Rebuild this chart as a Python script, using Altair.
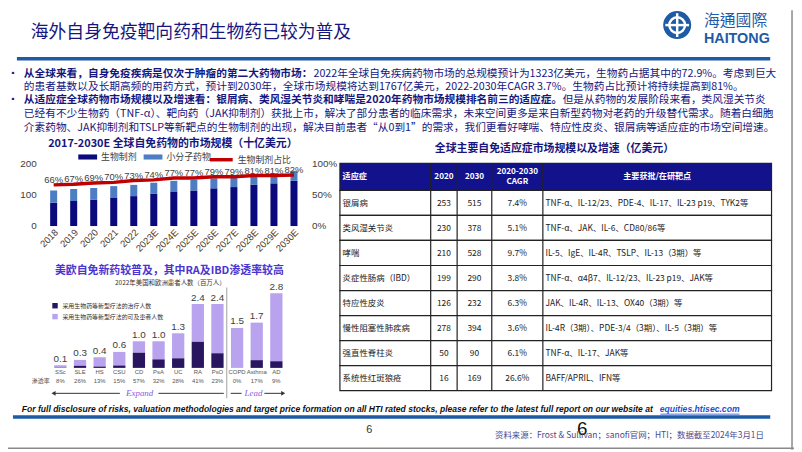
import altair as alt
import pandas as pd

# ---------------- data ----------------
years = ['2018', '2019', '2020', '2021', '2022', '2023E', '2024E', '2025E',
         '2026E', '2027E', '2028E', '2029E', '2030E']
bio = [75, 80, 84, 90, 96, 103, 111, 114, 121, 125, 133, 137, 145]
small = [39, 39, 38, 38, 36, 36, 34, 34, 32, 33, 31, 32, 32]
share = [0.66, 0.67, 0.69, 0.70, 0.73, 0.74, 0.77, 0.77, 0.79, 0.79, 0.81, 0.81, 0.82]
kinds = ['生物制剂', '小分子药物']
line_name = '生物制剂占比'
left_ticks = [0, 100, 200]
right_ticks = [0, 0.5, 1.0]

cats = ['SSc', 'SLE', 'HS', 'CSU', 'CD', 'PsA', 'UC', 'RA', 'PsO', 'COPD', 'Asthma', 'AD']
total = [0.1, 0.3, 0.4, 0.6, 1.0, 1.0, 1.3, 2.4, 2.4, 1.5, 1.7, 2.8]
treated = [0.01, 0.08, 0.05, 0.09, 0.57, 0.32, 0.36, 0.98, 0.55, 0.0, 0.29, 0.25]
rates = ['8%', '26%', '13%', '15%', '57%', '32%', '28%', '41%', '23%', '0%', '17%', '9%']
legend_b = ['采用生物药等新型疗法的治疗人数', '采用生物药等新型疗法的可及患者人数']

ind = ['银屑病', '类风湿关节炎', '哮喘', '炎症性肠病（IBD）', '特应性皮炎',
       '慢性阻塞性肺疾病', '强直性脊柱炎', '系统性红斑狼疮']
v2020 = [253, 230, 210, 199, 126, 278, 50, 16]
v2030 = [515, 378, 528, 290, 232, 394, 90, 169]
cagr = ['7.4%', '5.1%', '9.7%', '3.8%', '6.3%', '3.6%', '6.1%', '26.6%']
targets = ['TNF-α、IL-12/23、PDE-4、IL-17、IL-23 p19、TYK2等',
           'TNF-α、JAK、IL-6、CD80/86等',
           'IL-5、IgE、IL-4R、TSLP、IL-13（3期）等',
           'TNF-α、α4β7、IL-12/23、IL-23 p19、JAK等',
           'JAK、IL-4R、IL-13、OX40（3期）等',
           'IL-4R（3期）、PDE-3/4（3期）、IL-5（3期）等',
           'TNF-α、IL-17、JAK等',
           'BAFF/APRIL、IFN等']
table_header = ['适应症', '2020', '2030', '2020-2030', 'CAGR', '主要获批/在研靶点']

page_title = '海外自身免疫靶向药和生物药已较为普及'
b1_bold = '从全球来看，自身免疫疾病是仅次于肿瘤的第二大药物市场：'
b1_norm = '2022年全球自免疾病药物市场的总规模预计为1323亿美元，生物药占据其中的72.9%。考虑到巨大'
b2 = '的患者基数以及长期高频的用药方式，预计到2030年，全球市场规模将达到1767亿美元，2022-2030年CAGR  3.7%。生物药占比预计将持续提高到81%。'
b3_bold = '从适应症全球药物市场规模以及增速看：银屑病、类风湿关节炎和哮喘是2020年药物市场规模排名前三的适应症。'
b3_norm = '但是从药物的发展阶段来看，类风湿关节炎'
b4 = '已经有不少生物药（TNF-α）、靶向药（JAK抑制剂）获批上市，解决了部分患者的临床需求，未来空间更多是来自新型药物对老药的升级替代需求。随着白细胞'
b5 = '介素药物、JAK抑制剂和TSLP等新靶点的生物制剂的出现，解决目前患者“从0到1”的需求，我们更看好哮喘、特应性皮炎、银屑病等适应症的市场空间增速。'
top_title = '2017-2030E 全球自免药物的市场规模（十亿美元）'
bot_title = '美欧自免新药较普及，其中RA及IBD渗透率较高'
bot_sub = '2022年美国和欧洲患者人数（百万人）'
table_title = '全球主要自免适应症市场规模以及增速（亿美元）'
disclaimer = 'For full disclosure of risks, valuation methodologies and target price formation on all HTI rated stocks, please refer to the latest full report on our website at'
link = 'equities.htisec.com'
source = '资料来源：Frost & Sullivan；sanofi官网；HTI；数据截至2024年3月1日'

# ---------------- styles ----------------
CJK = 'Noto Sans CJK SC'
MIX = 'Noto Sans CJK SC'
LAT = 'Liberation Sans, Noto Sans CJK SC'
NAVY_TXT = '#16167E'
BAR_NAVY = '#0A0A7D'
BAR_LB = '#4D7DC3'
RED = '#C00000'
GRAY = '#404040'
BLUE_LINE = '#1F5AA6'
DPURP = '#28175F'
LPURP = '#B9A3EE'
TITLE_PURP = '#4A35D0'
ARROW_PURP = '#8A5CE6'
FS = 10.8


def X(v):
    return v - 8


def Y(v):
    return v - 8


dummy = pd.DataFrame({'d': [0]})


def txt(s, x, y, **kw):
    kw.setdefault('baseline', 'middle')
    return alt.Chart(pd.DataFrame({'t': [s]})).mark_text(**kw).encode(
        x=alt.value(X(x)), y=alt.value(Y(y)), text='t:N')


def rule(x1, y1, x2, y2, color, w, **kw):
    return alt.Chart(dummy).mark_rule(color=color, strokeWidth=w, **kw).encode(
        x=alt.value(X(x1)), x2=alt.value(X(x2)), y=alt.value(Y(y1)), y2=alt.value(Y(y2)))


def box(x1, y1, x2, y2, **kw):
    return alt.Chart(dummy).mark_rect(**kw).encode(
        x=alt.value(X(x1)), x2=alt.value(X(x2)), y=alt.value(Y(y1)), y2=alt.value(Y(y2)))


layers = []

# ---------------- header ----------------
layers.append(txt(page_title, 31, 31, align='left', font=CJK, fontSize=18, color=NAVY_TXT))
layers.append(rule(17, 57, 778, 57, BLUE_LINE, 3.5))
# logo
layers.append(alt.Chart(dummy).mark_circle(size=800, color=BLUE_LINE, opacity=1).encode(
    x=alt.value(X(684)), y=alt.value(Y(23))))
layers.append(alt.Chart(dummy).mark_point(shape='circle', filled=False, color='white', strokeWidth=2.5,
                                          size=250, opacity=1).encode(x=alt.value(X(684)), y=alt.value(Y(23))))
layers.append(rule(672, 23, 696, 23, 'white', 2.5))
layers.append(rule(684, 11, 684, 35, 'white', 2.5))
layers.append(txt('海通國際', 711, 19, align='left', font='Noto Sans CJK TC', fontSize=16, color=BLUE_LINE))
layers.append(txt('HAITONG', 711, 37, align='left', font='Liberation Sans',
                  fontSize=14.5, fontWeight='bold', color=BLUE_LINE))

# ---------------- bullets ----------------
for yy in (72, 99):
    layers.append(txt('▪', 13, yy, align='center', font=CJK, fontSize=8, color=NAVY_TXT))
layers.append(txt(b1_bold, 24, 72, align='left', font=MIX, fontSize=FS, fontWeight='bold', color=NAVY_TXT))
layers.append(txt(b1_norm, 24 + 27 * FS + 1, 72, align='left', font=MIX, fontSize=FS, color=NAVY_TXT))
layers.append(txt(b2, 24, 85.5, align='left', font=MIX, fontSize=FS, color=NAVY_TXT))
layers.append(txt(b3_bold, 24, 99, align='left', font=MIX, fontSize=FS, fontWeight='bold', color=NAVY_TXT))
layers.append(txt(b3_norm, 24 + 50.4 * FS, 99, align='left', font=MIX, fontSize=FS, color=NAVY_TXT))
layers.append(txt(b4, 24, 112.5, align='left', font=MIX, fontSize=FS, color=NAVY_TXT))
layers.append(txt(b5, 24, 126.5, align='left', font=MIX, fontSize=FS, color=NAVY_TXT))

# ---------------- top-left chart ----------------
layers.append(txt(top_title, 174.5, 143, align='center', font=CJK, fontSize=11, fontWeight='bold', color=NAVY_TXT))

df_top = pd.DataFrame({'year': years, 'bio': bio, 'small': small, 'share': share})
df_top_long = pd.DataFrame({'year': years * 2,
                            'kind': [kinds[0]] * len(years) + [kinds[1]] * len(years),
                            'val': bio + small,
                            'ord': [0] * len(years) + [1] * len(years)})
x_top = alt.Scale(domain=years, range=[X(44), X(307)], paddingInner=0.65, paddingOuter=0.325)
y_top = alt.Scale(domain=[0, 200], range=[Y(226), Y(163)])
y_pct = alt.Scale(domain=[0, 1], range=[Y(226), Y(163)])

leg_top = alt.Legend(orient='none', legendX=X(78), legendY=Y(145.5), direction='horizontal', title=None,
                     symbolType='M-1,-0.27H1V0.27H-1Z', symbolSize=361, labelFont=CJK, labelFontSize=9,
                     labelColor=GRAY, labelOffset=3, columnPadding=5, padding=0)
leg_line = alt.Legend(orient='none', legendX=X(210), legendY=Y(145.5), direction='horizontal', title=None,
                      symbolType='stroke', symbolSize=529, symbolStrokeWidth=3.5, labelFont=CJK,
                      labelFontSize=9, labelColor=GRAY, labelOffset=3, padding=0)

bars_top = alt.Chart(df_top_long).mark_bar().encode(
    x=alt.X('year:N', scale=x_top, axis=None),
    y=alt.Y('val:Q', stack='zero', scale=y_top, axis=None),
    color=alt.Color('kind:N', scale=alt.Scale(domain=kinds, range=[BAR_NAVY, BAR_LB]), legend=leg_top),
    order=alt.Order('ord:Q'))
ytl = alt.Chart(pd.DataFrame({'v': left_ticks})).mark_text(
    align='right', baseline='middle', fontSize=10, color=GRAY, font=LAT).encode(
    x=alt.value(X(37)), y=alt.Y('v:Q', scale=y_top, axis=None), text='v:Q')
xl_top = alt.Chart(df_top).mark_text(angle=315, align='right', baseline='middle', fontSize=9.5,
                                     color=GRAY, font=LAT, xOffset=3).encode(
    x=alt.X('year:N', scale=x_top, axis=None), y=alt.value(Y(231)), text='year:N')
layers.append(alt.layer(bars_top, ytl, xl_top))

line_top = alt.Chart(df_top).transform_calculate(s='"%s"' % line_name).mark_line(strokeWidth=3.5).encode(
    x=alt.X('year:N', scale=x_top, axis=None),
    y=alt.Y('share:Q', scale=y_pct, axis=None),
    color=alt.Color('s:N', scale=alt.Scale(domain=[line_name], range=[RED]), legend=leg_line))
line_lab = alt.Chart(df_top).mark_text(baseline='bottom', dy=0, fontSize=9.5, color=GRAY, font=LAT).encode(
    x=alt.X('year:N', scale=x_top, axis=None),
    y=alt.Y('share:Q', scale=y_pct, axis=None),
    text=alt.Text('share:Q', format='.0%'))
ytr = alt.Chart(pd.DataFrame({'p': right_ticks})).mark_text(
    align='left', baseline='middle', fontSize=10, color=GRAY, font=LAT).encode(
    x=alt.value(X(315)), y=alt.Y('p:Q', scale=y_pct, axis=None), text=alt.Text('p:Q', format='.0%'))
layers.append(alt.layer(line_top, line_lab, ytr))

# ---------------- bottom-left chart ----------------
layers.append(txt(bot_title, 171, 271, align='center', font=CJK, fontSize=11, fontWeight='bold', color=TITLE_PURP))
layers.append(txt(bot_sub, 172, 284, align='center', font=CJK, fontSize=6.5, color='#333333'))

df_b = pd.DataFrame({'cat': cats, 'total': total, 'treated': treated, 'rate': rates})
x_b = alt.Scale(domain=cats, range=[X(51), X(289)], paddingInner=0.375, paddingOuter=0.1875)
y_b = alt.Scale(domain=[0, 2.8], range=[Y(369.3), Y(294)])
c_b = alt.Scale(domain=legend_b, range=[DPURP, LPURP])
leg_b = alt.Legend(orient='none', legendX=X(52), legendY=Y(303), direction='vertical', title=None,
                   symbolType='square', symbolSize=30, labelFont=CJK, labelFontSize=6, labelColor='#333333',
                   rowPadding=4, labelOffset=4, padding=0)

light = alt.Chart(df_b).transform_calculate(k='"%s"' % legend_b[1]).mark_bar().encode(
    x=alt.X('cat:N', scale=x_b, axis=None),
    y=alt.Y('total:Q', scale=y_b, axis=None), y2='treated:Q',
    color=alt.Color('k:N', scale=c_b, legend=leg_b))
dark = alt.Chart(df_b).transform_calculate(k='"%s"' % legend_b[0]).mark_bar().encode(
    x=alt.X('cat:N', scale=x_b, axis=None),
    y=alt.Y('treated:Q', scale=y_b, axis=None, stack=None),
    color=alt.Color('k:N', scale=c_b, legend=leg_b))
vals = alt.Chart(df_b).mark_text(baseline='bottom', dy=-1.5, fontSize=10, color=GRAY, font=LAT).encode(
    x=alt.X('cat:N', scale=x_b, axis=None),
    y=alt.Y('total:Q', scale=y_b, axis=None),
    text=alt.Text('total:Q', format='.1f'))
catl = alt.Chart(df_b).mark_text(baseline='middle', fontSize=6, color='#555555', font=LAT).encode(
    x=alt.X('cat:N', scale=x_b, axis=None), y=alt.value(Y(373.5)), text='cat:N')
ratel = alt.Chart(df_b).mark_text(baseline='middle', fontSize=6, color='#555555', font=LAT).encode(
    x=alt.X('cat:N', scale=x_b, axis=None), y=alt.value(Y(383)), text='rate:N')
layers.append(alt.layer(light, dark, vals, catl, ratel))
layers.append(txt('渗透率', 50, 383, align='right', font=CJK, fontSize=6, color='#555555'))

# separator and arrows
layers.append(rule(229, 288, 229, 400, '#A0A0A0', 1))
layers.append(rule(55, 395, 121, 395, '#333333', 1))
layers.append(rule(160, 395, 226, 395, '#333333', 1))
layers.append(rule(233, 395, 244, 395, '#333333', 1))
layers.append(rule(267, 395, 285, 395, '#333333', 1))
layers.append(alt.Chart(dummy).mark_point(shape='triangle-left', filled=True, size=22, color='#333333',
                                          opacity=1).encode(x=alt.value(X(54)), y=alt.value(Y(395))))
layers.append(alt.Chart(dummy).mark_point(shape='triangle-right', filled=True, size=22, color='#333333',
                                          opacity=1).encode(x=alt.value(X(286)), y=alt.value(Y(395))))
layers.append(txt('Expand', 141, 395, align='center', font='Liberation Serif', fontStyle='italic',
                  fontSize=9, color=ARROW_PURP))
layers.append(txt('Lead', 256, 395, align='center', font='Liberation Serif', fontStyle='italic',
                  fontSize=9, color=ARROW_PURP))

# ---------------- table ----------------
layers.append(txt(table_title, 560, 148, align='center', font=CJK, fontSize=11, fontWeight='bold', color=NAVY_TXT))

TL, TR, TT, TH, TB = 343.3, 779.3, 162.7, 190, 392.3
cols = [435, 461.7, 496.7, 548.3]
df_t = pd.DataFrame({'ind': ind, 'v2020': v2020, 'v2030': v2030, 'cagr': cagr, 'tg': targets})
y_t = alt.Scale(domain=ind, range=[Y(TH), Y(TB)], paddingInner=0, paddingOuter=0)
rows = alt.Chart(df_t).mark_rect(fill='white', stroke='#222222', strokeWidth=1.2).encode(
    y=alt.Y('ind:N', scale=y_t, axis=None), x=alt.value(X(TL)), x2=alt.value(X(TR)))


def col_text(field, xpos, align):
    return alt.Chart(df_t).mark_text(align=align, baseline='middle', font=MIX, fontSize=8.5,
                                     color='#222222').encode(
        x=alt.value(X(xpos)), y=alt.Y('ind:N', scale=y_t, axis=None), text=field)


layers.append(alt.layer(rows,
                        col_text('ind:N', 346, 'left'),
                        col_text('v2020:Q', (cols[0] + cols[1]) / 2, 'center'),
                        col_text('v2030:Q', (cols[1] + cols[2]) / 2, 'center'),
                        col_text('cagr:N', (cols[2] + cols[3]) / 2, 'center'),
                        col_text('tg:N', 551, 'left')))
layers.append(box(TL, TT, TR, TH, fill='#12128C', stroke='#222222', strokeWidth=1.2))
for cx in cols:
    layers.append(rule(cx, TT, cx, TB, '#222222', 1.2))
hc = dict(font=MIX, fontSize=8.2, fontWeight='bold', color='white')
layers.append(txt(table_header[0], 346, 176.5, align='left', **hc))
layers.append(txt(table_header[1], (cols[0] + cols[1]) / 2, 176.5, align='center', **hc))
layers.append(txt(table_header[2], (cols[1] + cols[2]) / 2, 176.5, align='center', **hc))
layers.append(txt(table_header[3], (cols[2] + cols[3]) / 2, 171, align='center', **hc))
layers.append(txt(table_header[4], (cols[2] + cols[3]) / 2, 182, align='center', **hc))
layers.append(txt(table_header[5], (cols[3] + TR) / 2, 176.5, align='center', **hc))

# ---------------- footer ----------------
layers.append(txt(disclaimer, 22, 411, align='left', font='Liberation Sans',
                  fontSize=8.63, fontWeight='bold', fontStyle='italic', color='#111111'))
layers.append(txt(link, 747, 411, align='right', font='Liberation Sans',
                  fontSize=8.7, fontWeight='bold', fontStyle='italic', color='#1F4FD0'))
layers.append(rule(667, 416, 747, 416, '#1F4FD0', 0.8))
layers.append(rule(13, 419, 778, 419, BLUE_LINE, 3.5))
layers.append(txt('6', 373, 432, align='center', font=LAT, fontSize=11, color='#333333'))
layers.append(txt('6', 588, 431, align='center', font=LAT, fontSize=19, color='#111111'))
layers.append(txt(source, 500, 437, align='left', font=MIX, fontSize=8.5, color='#4A4A90'))

# slide frame (right / bottom)
layers.append(rule(800, 8, 800, 452, '#8A8A8A', 1.5))
layers.append(rule(8, 450.5, 802, 450.5, '#8A8A8A', 1.5))

chart = alt.layer(*layers).resolve_scale(
    x='independent', y='independent', color='independent'
).properties(
    width=794, height=444, autosize=alt.AutoSizeParams(type='none'), padding=0, background='white'
).configure_view(stroke=None)

chart.save('out.html', embed_options={'renderer': 'svg', 'actions': False})
